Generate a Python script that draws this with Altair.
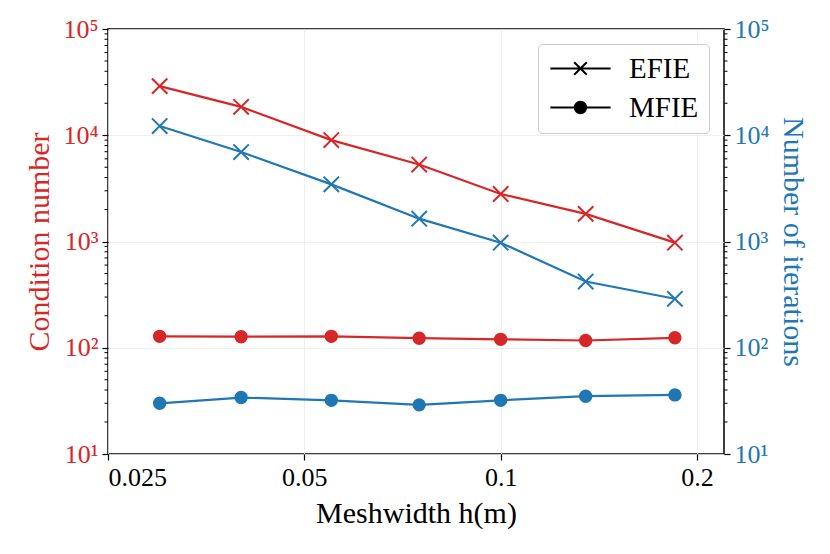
"""Condition number and iteration count of EFIE / MFIE against mesh width."""
import pandas as pd
import altair as alt

h = [0.03, 0.04, 0.055, 0.075, 0.1, 0.135, 0.185]
methods = ["EFIE", "MFIE"]
cond_efie = [29000, 18500, 9000, 5300, 2800, 1820, 975]
cond_mfie = [128, 127, 128, 123, 120, 117, 124]
iter_efie = [12200, 6950, 3450, 1640, 975, 420, 289]
iter_mfie = [30, 34, 32, 29, 32, 35, 36]

x_ticks = [0.025, 0.05, 0.1, 0.2]
y_ticks = [10, 100, 1000, 10000, 100000]
y_minor = [m * d for d in [10, 100, 1000, 10000] for m in range(2, 10)]

RED = "#d62728"
BLUE = "#1f77b4"
FONT = "Liberation Serif"
W, H = 616, 425


def long_table(efie, mfie):
    return pd.DataFrame({
        "h": h * 2,
        "method": ["EFIE"] * len(h) + ["MFIE"] * len(h),
        "value": efie + mfie,
    })


cond_df = long_table(cond_efie, cond_mfie)
iter_df = long_table(iter_efie, iter_mfie)
minor_df = pd.DataFrame({"value": y_minor})

x_enc = alt.X("h:Q", title="Meshwidth h(m)",
              scale=alt.Scale(type="log", domain=[0.025, 0.22], nice=False),
              axis=alt.Axis(values=x_ticks, format="~g", grid=True))
y_scale = alt.Scale(type="log", domain=[10, 100000], nice=False)
sup = "['⁰','¹','²','³','⁴','⁵'][round(log(datum.value)/LN10)]"
left_axis = alt.Axis(values=y_ticks, labelExpr="'10' + " + sup, orient="left",
                     labelColor=RED, titleColor=RED, grid=True)
right_axis = alt.Axis(values=y_ticks, labelExpr="'10' + " + sup, orient="right",
                      labelColor=BLUE, titleColor=BLUE, grid=False)
y_left = alt.Y("value:Q", title="Condition number", scale=y_scale, axis=left_axis)
y_right = alt.Y("value:Q", title="Number of iterations", scale=y_scale, axis=right_axis)

# plot markers: a cross and a filled dot
marker_shapes = alt.Scale(domain=methods, range=[
    "M-1.35,-1.35L1.35,1.35M-1.35,1.35L1.35,-1.35", "circle"])


def series(df, colour, y):
    line = alt.Chart(df).mark_line(color=colour, strokeWidth=2.2).encode(
        x=x_enc, y=y, detail="method:N")
    points = alt.Chart(df).mark_point(filled=True, fill=colour, stroke=colour,
                                      strokeWidth=2, size=130, opacity=1).encode(
        x=x_enc, y=y, shape=alt.Shape("method:N", scale=marker_shapes, legend=None))
    return line + points


minor_left = alt.Chart(minor_df).mark_rule(color="black", strokeWidth=1).encode(
    y=y_left, x=alt.value(0), x2=alt.value(-3.5))
minor_right = alt.Chart(minor_df).mark_rule(color="black", strokeWidth=1).encode(
    y=y_left, x=alt.value(W), x2=alt.value(W + 3.5))

red = alt.layer(series(cond_df, RED, y_left), minor_left, minor_right)
blue = series(iter_df, BLUE, y_right)

# legend entries: line + marker built from filled outlines only
line_bar = "M-4.3,-0.14L4.3,-0.14L4.3,0.14L-4.3,0.14Z"
cross = ("M-0.799,-1.001L1.001,0.799L0.799,1.001L-1.001,-0.799Z"
         "M-0.799,1.001L-1.001,0.799L0.799,-1.001L1.001,-0.799Z")
dot = "M0.95,0A0.95,0.95 0 1,1 -0.95,0A0.95,0.95 0 1,1 0.95,0Z"
legend_shapes = alt.Scale(domain=methods, range=[line_bar + cross, line_bar + dot])
legend_layer = alt.Chart(cond_df).transform_filter("false").mark_point(
    filled=True, color="black", opacity=1).encode(
    shape=alt.Shape("method:N", scale=legend_shapes, legend=alt.Legend(
        title=None, orient="top-right", offset=15, padding=10,
        symbolSize=196, symbolOffset=18, labelOffset=34, rowPadding=9,
        symbolFillColor="black", symbolOpacity=1,
        labelFontSize=29, labelFont=FONT, labelColor="black",
        strokeColor="#cccccc", cornerRadius=4, fillColor="white")))

chart = alt.layer(red, blue, legend_layer).resolve_scale(
    y="independent", shape="independent"
).properties(
    width=W, height=H, padding={"left": 16, "top": 8, "right": 5, "bottom": 5}
).configure_view(
    stroke="black", strokeWidth=1.5
).configure_axis(
    labelFont=FONT, titleFont=FONT, labelFontSize=26, titleFontSize=30,
    titleFontWeight="normal", domain=False, tickColor="black", tickSize=6,
    tickWidth=1.2, labelColor="black", titleColor="black", gridColor="#ebebeb",
    gridWidth=0.8, labelPadding=4, titlePadding=8
)

chart.save("out.html", embed_options={"renderer": "svg", "actions": False})
